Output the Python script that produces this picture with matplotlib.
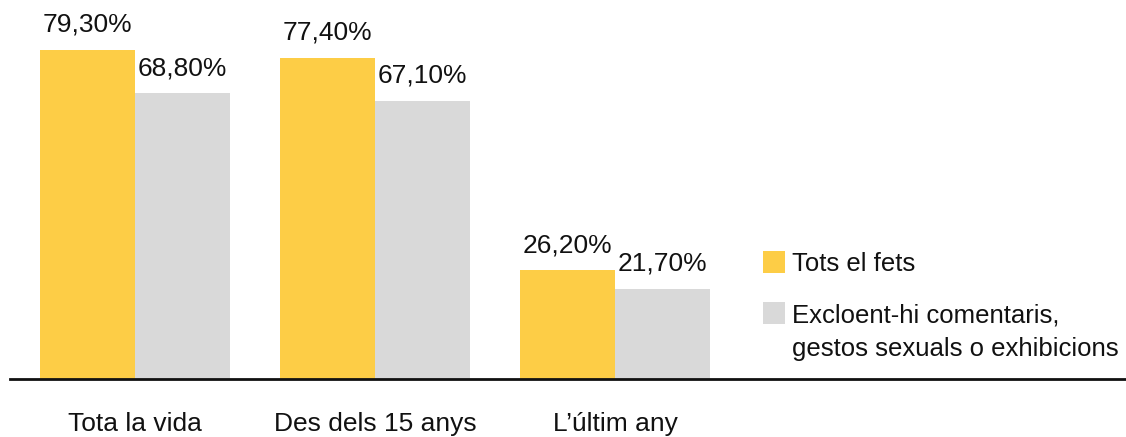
import matplotlib
matplotlib.use("Agg")
import matplotlib.pyplot as plt
from matplotlib.patches import Rectangle
import numpy as np

plt.rcParams['font.family'] = ['Liberation Sans', 'DejaVu Sans']

categories = ['Tota la vida', 'Des dels 15 anys', 'L\u2019últim any']
tots = [79.3, 77.4, 26.2]
excloent = [68.8, 67.1, 21.7]
series_names = ['Tots el fets', 'Excloent-hi comentaris,\ngestos sexuals o exhibicions']
colors = ['#FDCD46', '#D9D9D9']

W, H = 1126, 437
fig = plt.figure(figsize=(W / 100, H / 100), dpi=100)

def fx(x):
    return x / W

def fy(y):
    return 1 - y / H

# axes: left edge at 10px, baseline at y=379px, top at 0
base = 379
ax = fig.add_axes([fx(10), fy(base), 1 - fx(10), base / H])
group = 240.0
bw = 95 / group
ax.set_xlim((10 - 135) / group, (W - 135) / group)
ax.set_ylim(0, base / 4.15)

x = np.arange(len(categories))
b1 = ax.bar(x - bw, tots, width=bw, align='edge', color=colors[0])
b2 = ax.bar(x, excloent, width=bw, align='edge', color=colors[1])

for bars, vals in [(b1, tots), (b2, excloent)]:
    for rect, v in zip(bars, vals):
        ax.annotate(f"{v:.2f}".replace('.', ',') + '%',
                    (rect.get_x(), v), xytext=(3, 18),
                    textcoords='offset pixels', ha='left', va='baseline',
                    fontsize=19, color='#111111')

for s in ['top', 'right', 'left']:
    ax.spines[s].set_visible(False)
ax.spines['bottom'].set_linewidth(2)
ax.spines['bottom'].set_color('#111111')
ax.set_yticks([])
ax.set_xticks(x)
ax.set_xticklabels([])
# category labels sit low, near the bottom edge
for xi, cat in zip(x, categories):
    ax.annotate(cat, (xi, 0), xytext=(0, -(431 - base)),
                textcoords='offset pixels', ha='center', va='baseline',
                fontsize=19, color='#111111', annotation_clip=False)
ax.tick_params(axis='x', length=0)

# legend
legend_tops = [251, 302]
for top, name, c in zip(legend_tops, series_names, colors):
    fig.add_artist(Rectangle((fx(763), fy(top + 22)), 22 / W, 22 / H,
                             transform=fig.transFigure, color=c, lw=0))
    for k, line in enumerate(name.split('\n')):
        fig.text(fx(792), fy(top + 20 + 34 * k), line, ha='left', va='baseline',
                 fontsize=18.5, color='#111111')

fig.savefig('out.png', dpi=100)
